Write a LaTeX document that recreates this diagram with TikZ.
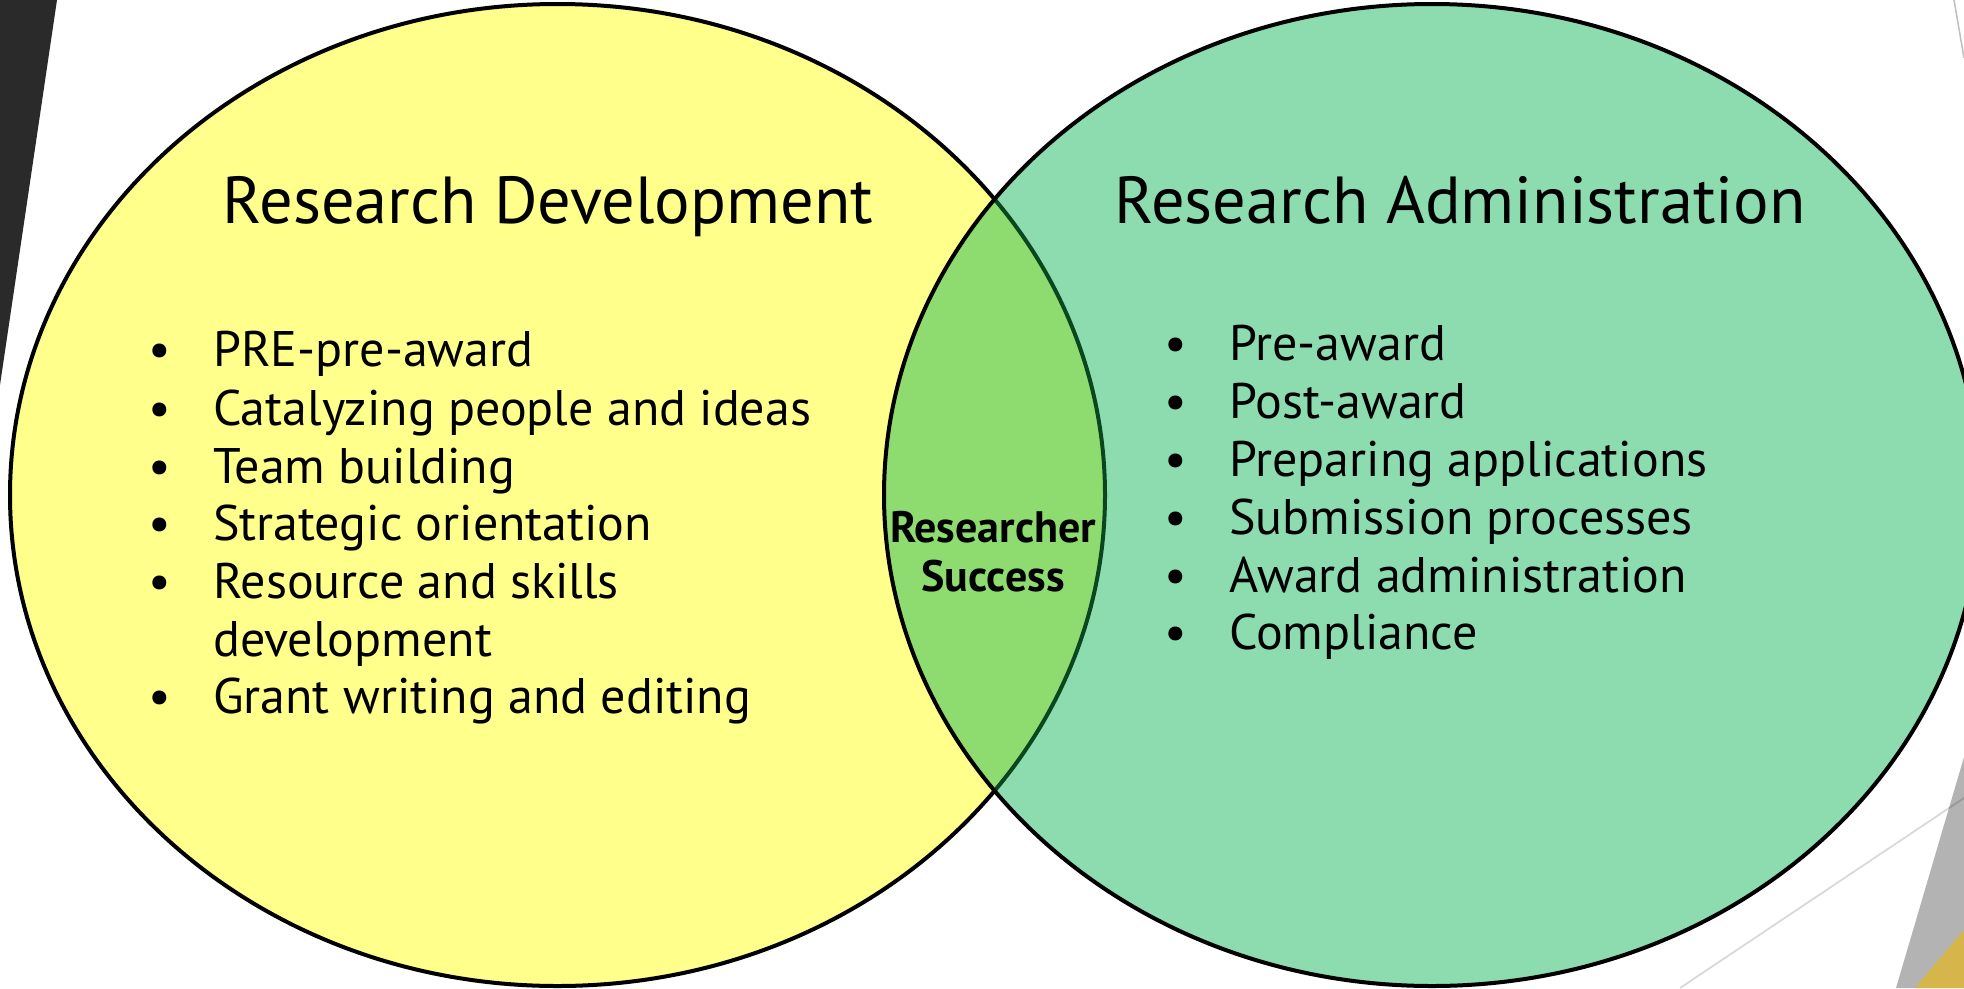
\documentclass[tikz,border=0pt]{standalone}
\usepackage{fontspec}
\setmainfont{PT Sans}
\definecolor{rdyellow}{RGB}{255,255,140}
\definecolor{rateal}{RGB}{140,220,176}
\definecolor{lensgreen}{RGB}{142,220,112}
\definecolor{darkband}{RGB}{42,42,42}
\definecolor{decogray}{RGB}{179,179,179}
\definecolor{decogold}{RGB}{214,182,74}
\definecolor{darkgreenline}{RGB}{10,70,30}
\tikzset{
  circline/.style={line width=4pt},
  titletext/.style={anchor=base, inner sep=0pt, font=\fontsize{66.5}{74}\selectfont},
  itemtext/.style={anchor=base west, inner sep=0pt, font=\fontsize{50}{58}\selectfont},
  centertext/.style={anchor=base, inner sep=0pt, font=\bfseries\fontsize{44}{50}\selectfont},
}
\newcommand{\bul}{\makebox[63pt][l]{\hspace{-2pt}•}}
\begin{document}
\begin{tikzpicture}[x=1pt,y=-1pt]
\useasboundingbox (0,0) rectangle (1964,988);
\fill[white] (0,0) rectangle (1964,988);
% decorations
\fill[darkband] (0,0) -- (57,0) -- (0,385) -- cycle;
\draw[gray!50, line width=1.5pt] (1954,0) -- (1964,58);
\fill[decogray] (1896,988) -- (1964,757) -- (1964,988) -- cycle;
\fill[decogold] (1915,988) -- (1964,930) -- (1964,988) -- cycle;
\draw[black, opacity=0.15, line width=1.8pt] (1680,988) -- (1964,798);
% ellipses
\coordinate (lc) at (557.5,495);
\coordinate (rc) at (1432,495);
\fill[rdyellow] (lc) ellipse [x radius=547.5, y radius=491];
\draw[circline] (lc) ellipse [x radius=547.5, y radius=491];
\fill[rateal] (rc) ellipse [x radius=548, y radius=491];
\begin{scope}
  \clip (rc) ellipse [x radius=548, y radius=491];
  \fill[lensgreen] (lc) ellipse [x radius=547.5, y radius=491];
  \draw[circline, darkgreenline] (lc) ellipse [x radius=547.5, y radius=491];
\end{scope}
\draw[circline] (rc) ellipse [x radius=548, y radius=491];
% titles
\node[titletext] (t1) at (548,223) {Research Development};
\node[titletext] (t2) at (1460,223) {Research Administration};
% left items
\node[itemtext] (l1) at (150,366) {\bul PRE-pre-award};
\node[itemtext] (l2) at (150,425) {\bul Catalyzing people and ideas};
\node[itemtext] (l3) at (150,483) {\bul Team building};
\node[itemtext] (l4) at (150,540) {\bul Strategic orientation};
\node[itemtext] (l5) at (150,598) {\bul Resource and skills};
\node[itemtext] (l5b) at (150,656) {\makebox[63pt]{}development};
\node[itemtext] (l6) at (150,713) {\bul Grant writing and editing};
% right items
\node[itemtext] (r1) at (1166,360) {\bul Pre-award};
\node[itemtext] (r2) at (1166,418) {\bul Post-award};
\node[itemtext] (r3) at (1166,476) {\bul Preparing applications};
\node[itemtext] (r4) at (1166,534) {\bul Submission processes};
\node[itemtext] (r5) at (1166,592) {\bul Award administration};
\node[itemtext] (r6) at (1166,649) {\bul Compliance};
% center
\node[centertext] (c1) at (993,542) {Researcher};
\node[centertext] (c2) at (993,591) {Success};
\end{tikzpicture}
\end{document}
